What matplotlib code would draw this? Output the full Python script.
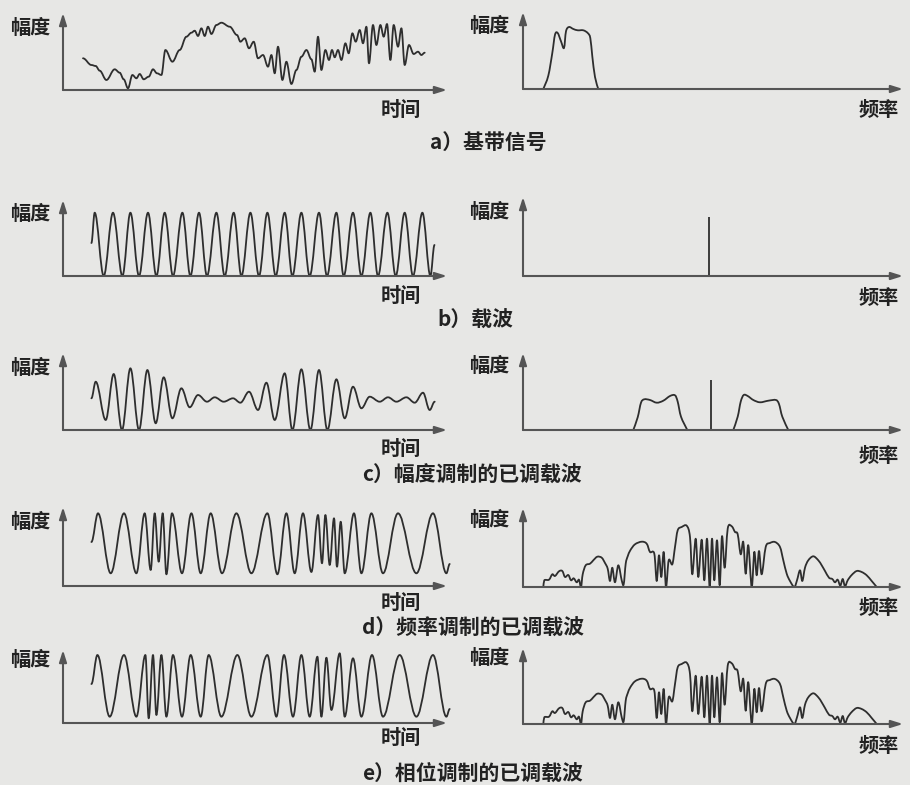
import numpy as np
import matplotlib
matplotlib.use('Agg')
import matplotlib.pyplot as plt
from matplotlib.path import Path
from matplotlib.patches import PathPatch

plt.rcParams['font.family'] = ['Noto Sans CJK SC', 'DejaVu Sans']

W_PX, H_PX = 910, 785
BG = '#e7e7e5'
INK = '#2e2e2e'
AXIS = '#555555'
TEXT = '#222222'

# units: time / frequency and amplitude (pixels from the axis origin)

# a) baseband signal, (time, amplitude) at turning points
base_signal = [(20.0, 31.7), (28.4, 25), (32.7, 24), (36.7, 19.3), (43.4, 10), (51.7, 20.7),
               (56.7, 17.3), (60.7, 10.7), (65.0, 1.7), (69.4, 15), (73.4, 11.7), (76.7, 16),
               (80.7, 10.7), (85.7, 13.3), (90.0, 20.7), (94.0, 16.7), (98.4, 15), (102.4, 40),
               (109.4, 28.3), (116.7, 40), (123.4, 53.3), (128.4, 57.3), (131.7, 59.3), (135.0, 54),
               (138.4, 61.7), (141.7, 54), (145.0, 63.3), (148.4, 56), (153.4, 65), (158.4, 67.3),
               (166.7, 63.3), (174.0, 55), (177.4, 48.3), (181.7, 51.7), (186.0, 41.7), (190.7, 48.3),
               (195.0, 31.7), (200.0, 35), (205.0, 23.3), (208.4, 35), (211.7, 16.7), (215.0, 43.3),
               (219.4, 10), (223.4, 28.3), (228.4, 6), (233.4, 20), (238.4, 33.3), (243.4, 40),
               (248.4, 30.7), (251.7, 18.3), (255.0, 53.3), (258.4, 20), (262.4, 40), (266.0, 30),
               (269.0, 40), (271.7, 32.7), (275.0, 40), (278.4, 30), (282.4, 46.7), (285.7, 36.7),
               (289.4, 56.7), (292.7, 48.3), (296.7, 60), (300.0, 46.7), (303.4, 63.3), (306.0, 26.7),
               (310.0, 65), (313.4, 45), (317.4, 65), (320.7, 53.3), (324.0, 66), (327.4, 30),
               (330.7, 65), (335.0, 43.3), (338.4, 61.7), (341.7, 25), (346.0, 45), (350.7, 36),
               (355.0, 38.3), (358.4, 35), (361.7, 37.3)]
base_spectrum = [(20.3, 0), (25.3, 13.3), (29.3, 36), (32, 54.3), (34.7, 56), (38, 47.7),
                 (41, 41), (43, 57.7), (46, 62), (50.3, 60), (54.7, 58.7), (60.3, 58.7),
                 (64.7, 56), (67.3, 51), (69.3, 32.7), (72, 12), (75.3, 0)]

# b) carrier
carrier_start = (28.4, 33)
carrier_peaks = [31.7, 50, 67.4, 85, 101.7, 119.4, 136, 153.4, 170.7, 187.4,
                 204.4, 221.7, 238.4, 256, 273.4, 290, 307.4, 324.4, 341.7, 359.4]
carrier_troughs = [40.7, 59.4, 76, 93.4, 110, 127.4, 144, 161.7, 178.4, 196,
                   212.7, 229.4, 246.7, 264, 280.7, 298.4, 315, 332.7, 350, 367.4]
carrier_end = (371.5, 31)
carrier_top, carrier_bottom = 63.3, 0
carrier_freq = 186
carrier_line_b = 59

# c) amplitude modulated carrier
am_signal = [(28.4, 31.7), (32.7, 48.3), (42.7, 10), (50.7, 56), (59, 0), (67.4, 61.7),
             (76, 0), (84.4, 60), (92.7, 6.7), (100.7, 52.7), (109.4, 11.7), (118.4, 41.7),
             (126.7, 22.7), (135, 35), (144, 28.3), (151.7, 32.7), (160.7, 28.3), (170, 31.7),
             (177.4, 27.3), (186, 38.3), (195, 20), (203.4, 47.3), (211.7, 10), (221.7, 56.7),
             (229.4, 0), (238.4, 60.7), (247.4, 0), (256, 60), (264.4, 0), (273.4, 50.7),
             (281.7, 11.7), (290, 43.3), (298.4, 21.7), (306.7, 33.3), (316.7, 28.3), (325, 32.7),
             (333.4, 28.3), (343.4, 32.7), (351.7, 27.3), (360, 37.3), (366.7, 20), (371.7, 28.3)]
am_lower = [(110.3, 0), (114.7, 12.7), (118, 27.3), (121.3, 30.7), (127, 30), (133.7, 27.3),
            (140.3, 29.3), (147, 34), (152, 34.7), (154.7, 28.3), (158, 13.3), (164.3, 0)]
am_upper = [(210.3, 0), (214.7, 13.3), (217.7, 28.3), (220.7, 35), (224.7, 34), (230.3, 30),
            (237, 27.7), (245.3, 29.3), (253, 30), (256, 26), (259.3, 13.3), (265.3, 0)]
am_carrier_line = 50
am_carrier_freq = 188

# d) frequency modulated carrier
fm_signal = [(28.4, 44), (35, 72.7), (47.7, 12.7), (61, 72.7), (73.4, 12.7), (81.7, 72.7),
             (87.7, 16), (91.7, 72.7), (95.7, 24.3), (99.7, 72.7), (103.4, 11.7), (109, 72.7),
             (119, 12.7), (128.4, 72.7), (137.7, 12.7), (147.7, 72.7), (159, 12.7), (173.4, 72.7),
             (188.4, 12.7), (204.4, 72.7), (214.4, 11.7), (223.4, 72.7), (231.7, 12.7), (240, 72.7),
             (248.4, 14), (255, 71), (259, 22.7), (262.4, 71), (266.7, 21), (271, 67.7),
             (274, 19.3), (277.7, 64.3), (281.7, 12.7), (291, 72.7), (298.4, 12.7), (308.4, 72.7),
             (320, 12.7), (335, 72.7), (353.4, 12.7), (370, 72.7), (383.4, 12.7), (386.7, 22)]

# e) phase modulated carrier
pm_signal = [(28.4, 39), (34.4, 68), (46.7, 6.3), (61, 68), (73.4, 6.3), (82.4, 68),
             (85.7, 4.7), (90, 68), (93.4, 8), (98.4, 68), (103.4, 6.3), (110, 68),
             (119, 6.3), (127.7, 68), (137.7, 6.3), (145.7, 68), (158.4, 6.3), (174.4, 68),
             (188.4, 6.3), (204.4, 68), (213.4, 6.3), (221, 68), (230, 6.3), (238.4, 68),
             (246.7, 6.3), (254.4, 66.3), (258.4, 6.3), (263.4, 65.3), (268.4, 13), (276.7, 69.7),
             (281.7, 6.3), (290, 64.7), (298.4, 6.3), (309, 68), (320, 6.3), (336.7, 68),
             (353.4, 6.3), (370, 68), (383.4, 6.3), (386.7, 14)]

# d) and e) share the same broadband spectrum
mod_spectrum = [(20.3, 0), (21.3, 6.7), (26, 7.3), (29.3, 12.7), (32, 11), (36, 15.7), (39.3, 16),
                (42, 10), (45.3, 12), (48, 6.7), (50.7, 8.7), (53.7, 4.7), (56, 7.3), (58, 0),
                (59.7, 12.7), (62.7, 21.7), (67, 23.3), (70.3, 26.7), (74.3, 30.3), (78.7, 29.3),
                (82, 24), (84.7, 18.3), (87, 6), (89.3, 19.3), (92, 4.7), (95.3, 21.7), (98.7, 6.7),
                (100.7, 2.7), (102.7, 23.3), (104.7, 30.7), (107.3, 36.7), (112, 42.7), (118.7, 45.3),
                (123.7, 43.3), (127, 35), (131.3, 33.3), (133.7, 6), (136, 31.7), (138.3, 10),
                (140.7, 35), (143, 0), (145.7, 26.7), (149.3, 22.7), (152, 40), (154.7, 56.7),
                (158.7, 60), (163.7, 61.3), (167, 50), (169.3, 12.7), (172.7, 48.3), (175.3, 10),
                (178.7, 47.3), (181.3, 6.7), (184, 48.3), (186.7, 0), (189, 48.3), (191.3, 6.7),
                (194, 46.7), (196.7, 1.7), (199, 50.7), (201.7, 19.3), (204.7, 58.3), (208.7, 60.7),
                (212, 55), (214.7, 52.7), (217.7, 32.7), (220.3, 45), (222.7, 13.3), (225.3, 41.7),
                (228.7, 0), (231.3, 35), (233.7, 11.7), (236, 36), (238.7, 12.7), (242.7, 40),
                (247, 44), (252, 45), (257, 40), (260.3, 26.7), (263.7, 13.3), (267, 6), (271.3, 0),
                (274, 6.7), (277, 16.7), (279.3, 6), (282, 19.3), (285.3, 26.7), (290.3, 30.7),
                (295.3, 26.7), (298.7, 21.7), (302, 16), (306, 9.3), (309.3, 8), (312, 4.7),
                (314.7, 7.3), (317.3, 1.3), (319.7, 8), (322, 0.7), (324.7, 6.7), (328.7, 12),
                (333.7, 16), (338.7, 15), (343.7, 11.7), (348.7, 6), (353.7, 0)]

captions = ['a）基带信号', 'b）载波', 'c）幅度调制的已调载波',
            'd）频率调制的已调载波', 'e）相位调制的已调载波']
y_label, t_label, f_label = '幅度', '时间', '频率'


def wave_path(points):
    # smooth curve through turning points, flat tangent at each point
    p = np.asarray(points, dtype=float)
    verts = [tuple(p[0])]
    codes = [Path.MOVETO]
    for i in range(len(p) - 1):
        d = (p[i + 1, 0] - p[i, 0]) * 0.36
        verts += [(p[i, 0] + d, p[i, 1]), (p[i + 1, 0] - d, p[i + 1, 1]), tuple(p[i + 1])]
        codes += [Path.CURVE4] * 3
    return Path(verts, codes)


def spline_path(points):
    # catmull-rom through the points, with the handles kept inside each segment
    p = np.asarray(points, dtype=float)
    n = len(p)
    verts = [tuple(p[0])]
    codes = [Path.MOVETO]
    for i in range(n - 1):
        p0, p1, p2, p3 = p[max(i - 1, 0)], p[i], p[i + 1], p[min(i + 2, n - 1)]
        seg = p2[0] - p1[0]
        d1 = (p2 - p0) / 6
        d2 = (p3 - p1) / 6
        if d1[0] > seg * 0.45:
            d1 = d1 * (seg * 0.45 / d1[0])
        if d2[0] > seg * 0.45:
            d2 = d2 * (seg * 0.45 / d2[0])
        verts += [tuple(p1 + d1), tuple(p2 - d2), tuple(p2)]
        codes += [Path.CURVE4] * 3
    return Path(verts, codes)


fig = plt.figure(figsize=(W_PX / 100, H_PX / 100), dpi=100, facecolor=BG)


def fig_text(x, y, s, **kw):
    fig.text(x / W_PX, 1 - y / H_PX, s, color=TEXT, **kw)


def panel(ox, axis_y, top_y, end_x):
    ax = fig.add_axes([ox / W_PX, 1 - axis_y / H_PX, (end_x - ox) / W_PX, (axis_y - top_y) / H_PX])
    ax.set_xlim(0, end_x - ox)
    ax.set_ylim(0, axis_y - top_y)
    ax.axis('off')
    ap = dict(arrowstyle='-|>,head_length=0.7,head_width=0.22', lw=1.5, color=AXIS,
              shrinkA=0, shrinkB=0)
    ax.annotate('', xy=(1, 0), xytext=(0, 0), xycoords='axes fraction', arrowprops=ap)
    ax.annotate('', xy=(0, 1), xytext=(0, 0), xycoords='axes fraction', arrowprops=ap)
    return ax


def draw(ax, path):
    ax.add_patch(PathPatch(path, fill=False, ec=INK, lw=1.3, clip_on=False, capstyle='round',
                           joinstyle='round'))


# row layout: left axis y, left top, right axis y, right top, label rows, caption
rows = [
    dict(ly=90, lt=13, ry=89, rt=12, lab_y=28, tl_y=109, fl_y=109, cap=(430, 143)),
    dict(ly=276, lt=200, ry=276, rt=197, lab_y=213, tl_y=295, fl_y=297, cap=(437, 320)),
    dict(ly=430, lt=353, ry=430, rt=353, lab_y=367, tl_y=448, fl_y=455, cap=(362, 475)),
    dict(ly=586, lt=507, ry=587, rt=508, lab_y=522, tl_y=602, fl_y=607, cap=(362, 628)),
    dict(ly=723, lt=650, ry=724, rt=648, lab_y=659, tl_y=737, fl_y=745, cap=(362, 773)),
]

axes = []
for k, r in enumerate(rows):
    axl = panel(63, r['ly'], r['lt'], 447)
    axr = panel(523, r['ry'], r['rt'], 903)
    axes.append((axl, axr))
    lab = dict(fontsize=14.5, ha='center', va='center', fontweight='bold')
    fig_text(30, r['lab_y'], y_label, **lab)
    fig_text(489, r['lab_y'] - 2, y_label, **lab)
    fig_text(401, r['tl_y'], t_label, **lab)
    fig_text(879, r['fl_y'], f_label, **lab)
    fig_text(r['cap'][0], r['cap'][1], captions[k], fontsize=15, ha='left', va='center',
             fontweight='bold')

# a) baseband
draw(axes[0][0], wave_path(base_signal))
draw(axes[0][1], spline_path(base_spectrum))

# b) carrier
carrier = [carrier_start]
for tp, tt in zip(carrier_peaks, carrier_troughs):
    carrier += [(tp, carrier_top), (tt, carrier_bottom)]
carrier.append(carrier_end)
draw(axes[1][0], wave_path(carrier))
axes[1][1].vlines(carrier_freq, 0, carrier_line_b, color=INK, lw=1.3)

# c) AM
draw(axes[2][0], wave_path(am_signal))
draw(axes[2][1], spline_path(am_lower))
draw(axes[2][1], spline_path(am_upper))
axes[2][1].vlines(am_carrier_freq, 0, am_carrier_line, color=INK, lw=1.3)

# d) FM
draw(axes[3][0], wave_path(fm_signal))
draw(axes[3][1], spline_path(mod_spectrum))

# e) PM
draw(axes[4][0], wave_path(pm_signal))
draw(axes[4][1], spline_path(mod_spectrum))

fig.savefig('out.png', dpi=100, facecolor=BG)
